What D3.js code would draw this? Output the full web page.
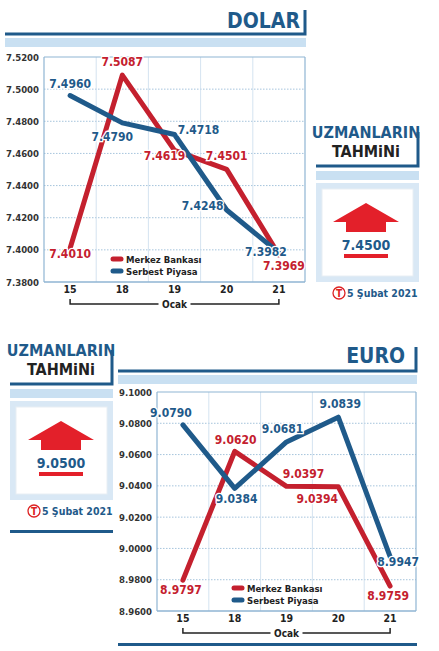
<!DOCTYPE html>
<html><head><meta charset="utf-8">
<script src="https://cdn.jsdelivr.net/npm/d3@7"></script>
<style>body{margin:0;background:#fff}svg{display:block}text{font-family:"DejaVu Sans",sans-serif;font-stretch:condensed;font-weight:bold}</style>
</head><body><svg id="c" width="439" height="651"></svg>
<script>
const days = ["15","18","19","20","21"];
const dolarMerkez = [7.4010, 7.5087, 7.4619, 7.4501, 7.3969];
const dolarSerbest = [7.4960, 7.4790, 7.4718, 7.4248, 7.3982];
const dolarTicks = [7.38,7.40,7.42,7.44,7.46,7.48,7.50,7.52];
const euroMerkez = [8.9797, 9.0620, 9.0397, 9.0394, 8.9759];
const euroSerbest = [9.0790, 9.0384, 9.0681, 9.0839, 8.9947];
const euroTicks = [8.96,8.98,9.00,9.02,9.04,9.06,9.08,9.10];
const dolarForecast = "7.4500", euroForecast = "9.0500";
const seriesNames = ["Merkez Bankası","Serbest Piyasa"];

const BLUE="#1f5a8a", RED="#c4202e", LIGHT="#c9e0f2", BOX="#d9e8f5", GRID="#8fb5d3";
const svg=d3.select("#c");

function chart(o){
  const g=svg.append("g");
  g.append("text").attr("x",o.titleX).attr("y",o.titleY).attr("text-anchor","end").attr("fill",BLUE).attr("font-size",21).text(o.title);
  g.append("path").attr("d",`M${o.hx0},${o.hy} H${o.hx1} V${o.hy-24}`).attr("stroke",BLUE).attr("stroke-width",3).attr("fill","none");
  g.append("rect").attr("x",o.hx0).attr("y",o.hy+4).attr("width",o.hx1-o.hx0+1).attr("height",9).attr("fill",LIGHT);
  const x=d3.scaleBand().domain(days).range([o.x0,o.x1]);
  const y=d3.scaleLinear().domain([o.ticks[0],o.ticks[o.ticks.length-1]]).range([o.y1,o.y0]);
  g.selectAll(".hg").data(o.ticks.slice(1,-1)).join("line").attr("x1",o.x0).attr("x2",o.x1).attr("y1",d=>y(d)).attr("y2",d=>y(d)).attr("stroke",GRID).attr("stroke-dasharray","1.5,1.5").attr("stroke-width",0.8);
  g.selectAll(".vg").data(days.slice(1)).join("line").attr("x1",d=>x(d)).attr("x2",d=>x(d)).attr("y1",o.y0).attr("y2",o.y1).attr("stroke","#c9dcec").attr("stroke-width",0.8);
  g.append("line").attr("x1",o.x0).attr("x2",o.x1).attr("y1",o.y0).attr("y2",o.y0).attr("stroke",GRID).attr("stroke-width",1.2);
  g.append("line").attr("x1",o.x0).attr("x2",o.x1).attr("y1",o.y1).attr("y2",o.y1).attr("stroke",GRID).attr("stroke-width",1.5);
  g.append("line").attr("x1",o.x0).attr("x2",o.x0).attr("y1",o.y0).attr("y2",o.y1).attr("stroke",GRID).attr("stroke-width",1.2);
  g.append("line").attr("x1",o.x1).attr("x2",o.x1).attr("y1",o.y0).attr("y2",o.y1).attr("stroke",GRID).attr("stroke-width",1.2);
  const ya=g.append("g").attr("transform",`translate(${o.x0},0)`).call(d3.axisLeft(y).tickValues(o.ticks).tickFormat(d3.format(".4f")).tickSize(0).tickPadding(5));
  ya.select(".domain").remove();
  ya.selectAll("text").attr("font-size",9.5).attr("fill","#333").attr("font-family","'DejaVu Sans',sans-serif").attr("font-weight","normal");
  const xa=g.append("g").attr("transform",`translate(0,${o.y1})`).call(d3.axisBottom(x).tickSize(0).tickPadding(4));
  xa.select(".domain").remove();
  xa.selectAll("text").attr("font-size",10.5).attr("fill","#222").attr("font-family","'DejaVu Sans',sans-serif");
  const cx=x.bandwidth()/2, xl=x(days[0])+cx, xr=x(days[4])+cx, mid=(xl+xr)/2, by=o.y1+22;
  g.append("path").attr("d",`M${xl},${by-5}V${by}H${mid-16}M${mid+16},${by}H${xr}V${by-5}`).attr("stroke","#222").attr("stroke-width",1.5).attr("fill","none");
  g.append("text").attr("x",mid).attr("y",by+4).attr("text-anchor","middle").attr("font-size",10).attr("fill","#222").text("Ocak");
  const line=d3.line().x((d,i)=>x(days[i])+cx).y(d=>y(d));
  [[o.m,RED],[o.s,BLUE]].forEach(([v,c])=>g.append("path").attr("d",line(v)).attr("fill","none").attr("stroke",c).attr("stroke-width",5).attr("stroke-linejoin","round").attr("stroke-linecap","round"));
  const lab=(v,c,offs)=>g.selectAll(null).data(v).join("text").attr("x",(d,i)=>x(days[i])+cx+offs[i][0]).attr("y",(d,i)=>y(d)+offs[i][1]).attr("text-anchor","middle").attr("fill",c).attr("font-size",12).attr("font-weight","normal").attr("stroke","#fff").attr("stroke-width",2.5).attr("paint-order","stroke").text(d=>d.toFixed(4));
  lab(o.m,RED,o.mo); lab(o.s,BLUE,o.so);
  [[RED,0],[BLUE,12]].forEach(([c,dy],i)=>{
    g.append("line").attr("x1",o.lx).attr("x2",o.lx+8).attr("y1",o.ly+dy).attr("y2",o.ly+dy).attr("stroke",c).attr("stroke-width",5).attr("stroke-linecap","round");
    g.append("text").attr("x",o.lx+13).attr("y",o.ly+dy+4).attr("font-size",9.5).attr("font-weight","normal").attr("fill","#222").text(seriesNames[i]);
  });
  if(o.bottomLine) g.append("rect").attr("x",o.hx0).attr("y",o.bottomLine).attr("width",o.hx1-o.hx0+1).attr("height",3).attr("fill",BLUE);
}

function forecast(o){
  const g=svg.append("g");
  g.append("text").attr("x",o.cx).attr("y",o.ty).attr("text-anchor","middle").attr("fill",BLUE).attr("font-size",16).text("UZMANLARIN");
  g.append("text").attr("x",o.cx).attr("y",o.ty+19).attr("text-anchor","middle").attr("fill","#222").attr("font-size",16).text("TAHMiNi");
  g.append("path").attr("d",`M${o.x0},${o.ly}H${o.x1}V${o.ly-34}`).attr("stroke",BLUE).attr("stroke-width",3).attr("fill","none");
  g.append("rect").attr("x",o.x0).attr("y",o.ly+5).attr("width",o.x1-o.x0+1).attr("height",9).attr("fill",LIGHT);
  g.append("rect").attr("x",o.x0).attr("y",o.ly+17).attr("width",o.x1-o.x0+1).attr("height",99).attr("fill",BOX);
  g.append("rect").attr("x",o.x0+6).attr("y",o.ly+23).attr("width",o.x1-o.x0-11).attr("height",87).attr("fill","#fff").attr("stroke","#e8eef4");
  const a=o.ly+37, c=o.cx;
  g.append("path").attr("d",`M${c},${a}L${c+33},${a+19}H${c+20}V${a+29}H${c-20}V${a+19}H${c-33}Z`).attr("fill","#e3202a");
  g.append("text").attr("x",c).attr("y",a+47).attr("text-anchor","middle").attr("fill",BLUE).attr("font-size",14).text(o.val);
  g.append("rect").attr("x",c-22).attr("y",a+51).attr("width",44).attr("height",4).attr("fill","#e3202a");
  const dy=o.ly+131;
  g.append("circle").attr("cx",c-27).attr("cy",dy-4).attr("r",6).attr("fill","#fff").attr("stroke","#d22").attr("stroke-width",1.3);
  g.append("text").attr("x",c-27).attr("y",dy).attr("text-anchor","middle").attr("fill","#d22").attr("font-size",10).text("T");
  g.append("text").attr("x",c-19).attr("y",dy).attr("fill",BLUE).attr("font-size",10.5).text("5 Şubat 2021");
  if(o.bottom) g.append("rect").attr("x",o.x0).attr("y",o.bottom).attr("width",o.x1-o.x0+1).attr("height",3).attr("fill",BLUE);
}

chart({title:"DOLAR",titleX:300,titleY:28,hx0:5,hx1:305,hy:34,x0:44,x1:305,y0:57,y1:282,ticks:dolarTicks,m:dolarMerkez,s:dolarSerbest,
  mo:[[0,10],[0,-9],[-10,10],[0,-9],[5,15]],so:[[0,-8],[-10,18],[24,0],[-24,0],[-13,3]],lx:113,ly:259});
forecast({cx:366,ty:138,x0:316,x1:418,ly:166,val:dolarForecast});
chart({title:"EURO",titleX:405,titleY:363,hx0:118,hx1:416,hy:371,x0:157,x1:416,y0:392,y1:611,ticks:euroTicks,m:euroMerkez,s:euroSerbest,
  mo:[[-2,14],[1,-7],[17,-8],[-21,16],[-2,14]],so:[[-12,-8],[2,15],[-4,-9],[2,-9],[8,9]],lx:234,ly:588,bottomLine:643});
forecast({cx:61,ty:356,x0:10,x1:112,ly:384,val:euroForecast,bottom:530});
</script></body></html>
